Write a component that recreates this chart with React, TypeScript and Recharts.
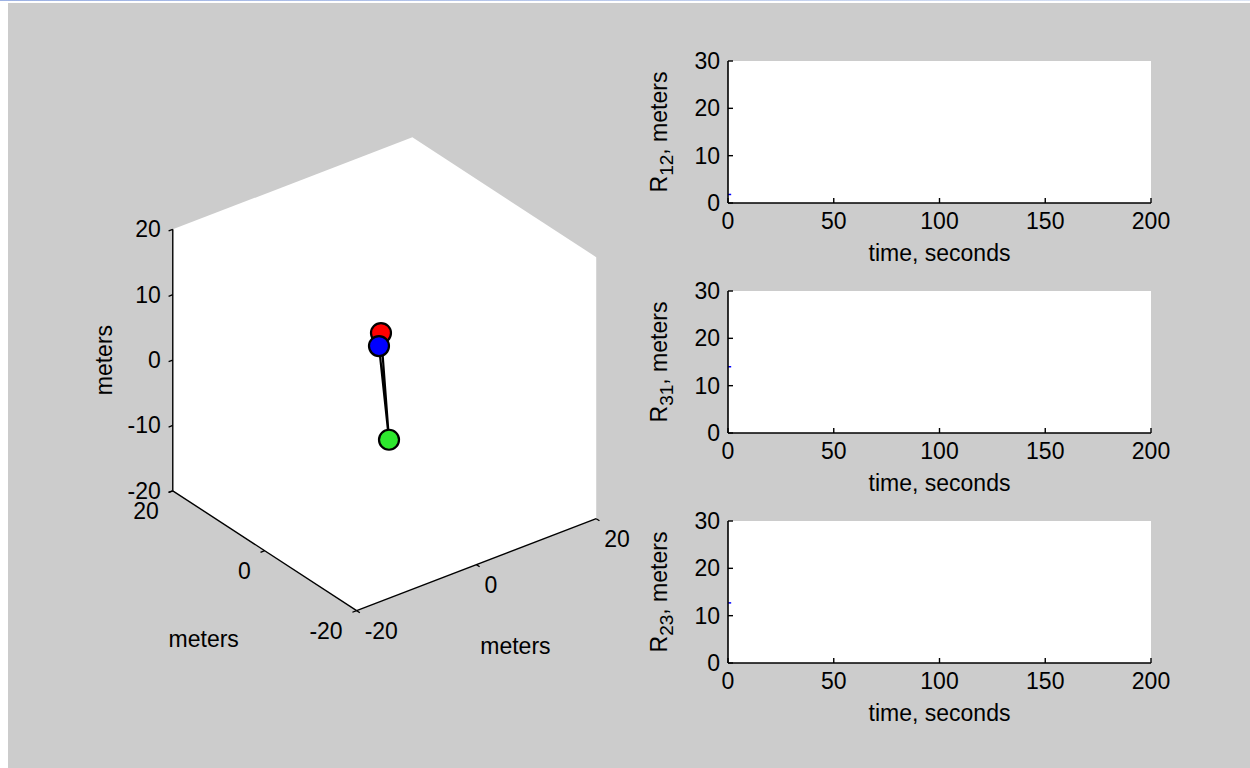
import React from "react";
import { CartesianGrid, Label, Line, LineChart, Scatter, ScatterChart, XAxis, YAxis } from "recharts";

// 3-D view, same as MATLAB view(3)
const VIEW_AZ = -37.5;
const VIEW_EL = 30;
const AXIS_MIN = -20;
const AXIS_MAX = 20;
const zTicks = [-20, -10, 0, 10, 20];
const xyTicks = [-20, 0, 20];

// body positions, meters
const bodyNames = ["body 1", "body 2", "body 3"];
const bodyX = [1.3, 0.56, -2.21];
const bodyY = [2.46, 1.93, -3.86];
const bodyZ = [4.67, 3.19, -7.51];

// range histories
const time = [0, 1.5];
const r12 = [1.8, 1.8];
const r31 = [14, 14];
const r23 = [12.7, 12.7];
const timeTicks = [0, 50, 100, 150, 200];
const rangeTicks = [0, 10, 20, 30];

const FONT = '"Liberation Sans", Arial, sans-serif';
const FS = 23;
const INK = "#000";
const bodyColors = ["#ff0000", "#0000ff", "#2ee82e"];

const rad = Math.PI / 180;
function project(x: number, y: number, z: number, extra: Record<string, any> = {}) {
    const a = VIEW_AZ * rad;
    const e = VIEW_EL * rad;
    return {
        u: Math.cos(a) * x + Math.sin(a) * y,
        v: -Math.sin(e) * Math.sin(a) * x + Math.sin(e) * Math.cos(a) * y + Math.cos(e) * z,
        ...extra,
    };
}

const blank = () => <g />;

const textShape = (anchor: "start" | "middle" | "end", dx: number, dy: number) => (p: any) => (
    <text
        x={p.cx + dx}
        y={p.cy + dy}
        textAnchor={anchor}
        dominantBaseline="central"
        fontFamily={FONT}
        fontSize={FS}
        fill={INK}
    >
        {p.payload.label}
    </text>
);

const rotatedTextShape = (dx: number) => (p: any) => {
    const x = p.cx + dx;
    const y = p.cy;
    return (
        <text
            x={x}
            y={y}
            transform={`rotate(-90 ${x} ${y})`}
            textAnchor="middle"
            dominantBaseline="central"
            fontFamily={FONT}
            fontSize={FS}
            fill={INK}
        >
            {p.payload.label}
        </text>
    );
};

function Scene3D() {
    const L = AXIS_MIN;
    const H = AXIS_MAX;
    const T = 0.7; // tick length, meters

    const hex = [
        [L, H, H], [H, H, H], [H, L, H], [H, L, L], [L, L, L], [L, H, L],
    ].map(([x, y, z]) => project(x, y, z));

    const axes = [
        [project(L, H, L), project(L, H, H)],
        [project(L, H, L), project(L, L, L)],
        [project(L, L, L), project(H, L, L)],
    ];

    const ticks = [
        ...zTicks.map(z => [project(L, H, z), project(L - T, H, z)]),
        ...xyTicks.map(y => [project(L, y, L), project(L - T, y, L)]),
        ...xyTicks.map(x => [project(x, L, L), project(x, L - T, L)]),
    ];

    const zLabels = zTicks.map(z => project(L, H, z, { label: String(z) }));
    const yLabels = xyTicks.map(y => project(L, y, L, { label: String(y) }));
    const xLabels = xyTicks.map(x => project(x, L, L, { label: String(x) }));

    const bodies = bodyNames.map((name, i) => project(bodyX[i], bodyY[i], bodyZ[i], { name }));
    const links = [bodies[0], bodies[1], bodies[2], bodies[0]];

    return (
        <ScatterChart width={650} height={700} margin={{ top: 102.2, left: 127.8, right: 8.8, bottom: 54.2 }}>
            <XAxis type="number" dataKey="u" domain={[-34, 34]} hide />
            <YAxis type="number" dataKey="v" domain={[-36, 36]} hide />
            <Scatter data={hex} shape={blank} line={{ fill: "#ffffff", stroke: "none" }} isAnimationActive={false} />
            {axes.map((seg, i) => (
                <Scatter key={"a" + i} data={seg} shape={blank} line={{ stroke: "#000", strokeWidth: 1.4 }} isAnimationActive={false} />
            ))}
            {ticks.map((seg, i) => (
                <Scatter key={"t" + i} data={seg} shape={blank} line={{ stroke: "#000", strokeWidth: 1.3 }} isAnimationActive={false} />
            ))}
            <Scatter data={zLabels} shape={textShape("end", -12, 0)} isAnimationActive={false} />
            <Scatter data={yLabels} shape={textShape("end", -14, 20)} isAnimationActive={false} />
            <Scatter data={xLabels} shape={textShape("start", 8, 20)} isAnimationActive={false} />
            <Scatter data={[project(L, 0, L, { label: "meters" })]} shape={textShape("middle", -61, 88)} isAnimationActive={false} />
            <Scatter data={[project(0, L, L, { label: "meters" })]} shape={textShape("middle", 39, 81)} isAnimationActive={false} />
            <Scatter data={[project(L, H, 0, { label: "meters" })]} shape={rotatedTextShape(-69)} isAnimationActive={false} />
            <Scatter data={links} shape={blank} line={{ stroke: "#000", strokeWidth: 2.2 }} isAnimationActive={false} />
            {bodies.map((b, i) => (
                <Scatter
                    key={b.name}
                    data={[b]}
                    isAnimationActive={false}
                    shape={(p: any) => (
                        <circle cx={p.cx} cy={p.cy} r={10} fill={bodyColors[i]} stroke="#000" strokeWidth={2.2} />
                    )}
                />
            ))}
        </ScatterChart>
    );
}

const XTick = (p: any) => (
    <g>
        <line x1={p.x} y1={p.y} x2={p.x} y2={p.y - 5} stroke="#000" strokeWidth={1.4} />
        <text x={p.x} y={p.y + 18} textAnchor="middle" dominantBaseline="central" fontFamily={FONT} fontSize={FS} fill={INK}>
            {p.payload.value}
        </text>
    </g>
);

const YTick = (p: any) => (
    <g>
        <line x1={p.x} y1={p.y} x2={p.x + 5} y2={p.y} stroke="#000" strokeWidth={1.4} />
        <text x={p.x - 8} y={p.y} textAnchor="end" dominantBaseline="central" fontFamily={FONT} fontSize={FS} fill={INK}>
            {p.payload.value}
        </text>
    </g>
);

function RangePanel({ top, values, sub }: { top: number; values: number[]; sub: string }) {
    const data = time.map((t, i) => ({ t, r: values[i] }));
    return (
        <div style={{ position: "absolute", left: 620, top: top - 20 }}>
            <LineChart width={551} height={232} data={data} margin={{ top: 20, right: 20, left: 28, bottom: 10 }}>
                <CartesianGrid horizontal={false} vertical={false} fill="#ffffff" stroke="none" />
                <XAxis
                    dataKey="t"
                    type="number"
                    domain={[0, 200]}
                    ticks={timeTicks}
                    interval={0}
                    height={60}
                    axisLine={{ stroke: "#000", strokeWidth: 1.6 }}
                    tickLine={false}
                    tickSize={0}
                    tickMargin={0}
                    tick={<XTick />}
                >
                    <Label
                        content={(p: any) => (
                            <text
                                x={p.viewBox.x + p.viewBox.width / 2}
                                y={p.viewBox.y + 50}
                                textAnchor="middle"
                                dominantBaseline="central"
                                fontFamily={FONT}
                                fontSize={FS}
                                fill={INK}
                            >
                                time, seconds
                            </text>
                        )}
                    />
                </XAxis>
                <YAxis
                    type="number"
                    domain={[0, 30]}
                    ticks={rangeTicks}
                    interval={0}
                    width={80}
                    axisLine={{ stroke: "#000", strokeWidth: 1.6 }}
                    tickLine={false}
                    tickSize={0}
                    tickMargin={0}
                    tick={<YTick />}
                >
                    <Label
                        content={(p: any) => {
                            const x = p.viewBox.x + p.viewBox.width - 69;
                            const y = p.viewBox.y + p.viewBox.height / 2;
                            return (
                                <text
                                    x={x}
                                    y={y}
                                    transform={`rotate(-90 ${x} ${y})`}
                                    textAnchor="middle"
                                    dominantBaseline="central"
                                    fontFamily={FONT}
                                    fontSize={FS}
                                    fill={INK}
                                >
                                    R<tspan dy={7} fontSize={19}>{sub}</tspan>
                                    <tspan dy={-7}>, meters</tspan>
                                </text>
                            );
                        }}
                    />
                </YAxis>
                <Line dataKey="r" stroke="#0000ff" strokeWidth={1.5} dot={false} isAnimationActive={false} />
            </LineChart>
        </div>
    );
}

export default function App() {
    return (
        <div style={{ position: "absolute", left: 0, top: 0, width: 1250, height: 768, background: "#fff", overflow: "hidden", fontFamily: FONT }}>
            <div style={{ position: "absolute", left: 0, top: 0, width: 1250, height: 1, background: "linear-gradient(to right, #9db2e4, #dce5f5)" }} />
            <div style={{ position: "absolute", left: 8, top: 3, width: 1242, height: 765, background: "#cccccc" }} />
            <div style={{ position: "absolute", left: 0, top: 0 }}>
                <Scene3D />
            </div>
            <RangePanel top={61} values={r12} sub="12" />
            <RangePanel top={291} values={r31} sub="31" />
            <RangePanel top={521} values={r23} sub="23" />
        </div>
    );
}
